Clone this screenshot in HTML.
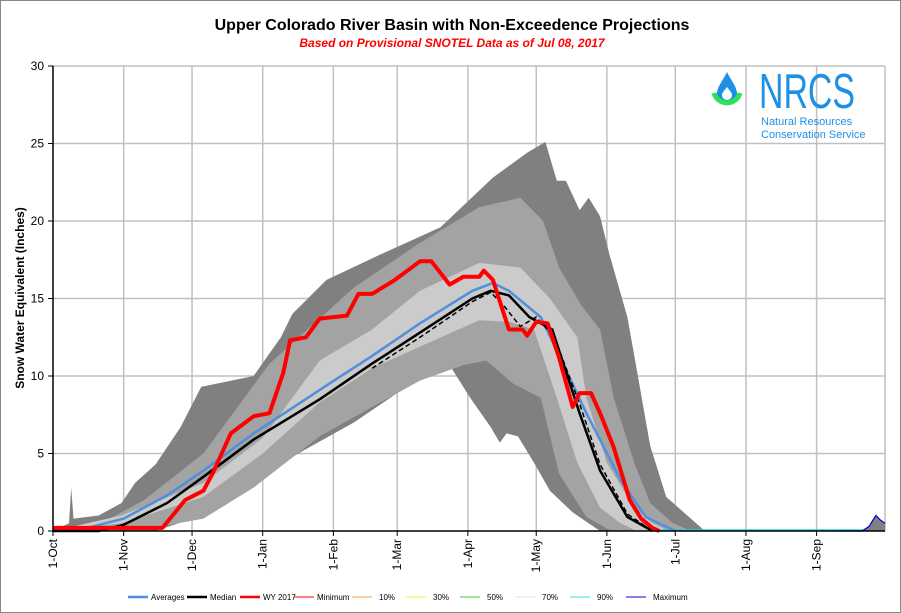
<!DOCTYPE html>
<html><head><meta charset="utf-8"><style>
body{margin:0;background:#fff;}
svg{display:block;font-family:"Liberation Sans",Arial,sans-serif;}
</style></head><body>
<svg id="chart" width="901" height="613" viewBox="0 0 901 613">
<rect x="0.5" y="0.5" width="900" height="612" fill="#fff" stroke="#888"/>
<text x="452" y="30" text-anchor="middle" font-size="16" font-weight="bold">Upper Colorado River Basin with Non-Exceedence Projections</text>
<text x="452" y="47" text-anchor="middle" font-size="12" font-weight="bold" font-style="italic" fill="#f00">Based on Provisional SNOTEL Data as of Jul 08, 2017</text>
<text transform="translate(24,298) rotate(-90)" text-anchor="middle" font-size="12" font-weight="bold">Snow Water Equivalent (Inches)</text>
<g id="grid"></g>
<g id="bands"></g>
<g id="lines"></g>
<g id="axes"></g>
<g>
<path d="M727,72 C722,82 717,87 717,94 A10,10 0 0 0 737,94 C737,87 732,82 727,72 Z" fill="#1e90e6"/>
<path d="M727,87 C724,91 722,93 722,95 A5,5 0 0 0 732,95 C732,93 730,91 727,87Z" fill="#fff"/>
<path d="M714,93 A13.5,13.5 0 0 0 740,93" fill="none" stroke="#2ee05a" stroke-width="5"/>
<text x="759" y="108" font-size="49" fill="#1e90e6" textLength="96" lengthAdjust="spacingAndGlyphs">NRCS</text>
<text x="761" y="125" font-size="11" fill="#1e90e6">Natural Resources</text>
<text x="761" y="138" font-size="11" fill="#1e90e6">Conservation Service</text>
</g>
<g id="legend"></g>
</svg>
<script>
const monthLabels=["1-Oct","1-Nov","1-Dec","1-Jan","1-Feb","1-Mar","1-Apr","1-May","1-Jun","1-Jul","1-Aug","1-Sep"];
const monthDays=[0,31,61,92,123,151,182,212,243,273,304,335];
const yTicks=[0,5,10,15,20,25,30];
const maxD=[0,7,8,9,20,30,36,45,56,65,88,100,105,120,143,170,193,208,216,221,225,231,235,240,244,252,256,262,269,279,286];
const maxV=[0,0.5,2.8,0.8,1,1.8,3.1,4.3,6.7,9.3,10,12.5,14,16.2,17.8,19.6,22.8,24.4,25.1,22.6,22.6,20.7,21.5,20.3,17.9,13.8,10.5,5.5,2.2,0.9,0];
const minD=[0,45,55,66,88,110,132,152,161,174,183,192,196,199,204,211,218,228,237,240];
const minV=[0,0,0.5,1.4,3.3,5.2,7,9,10.2,10.7,8.6,6.7,5.7,6.3,6.1,4.4,2.6,1.2,0.3,0];
const p90D=[0,20,40,66,95,132,160,187,205,215,222,232,240,246,255,262,272,280];
const p90V=[0,0.4,2,5,10.8,15.7,18.5,20.9,21.5,20,17,14.5,13,8.6,4.4,1.8,0.5,0];
const p10D=[0,40,66,88,117,140,161,180,190,202,214,222,234,245];
const p10V=[0,0.1,0.8,2.8,6.1,8,9.7,10.7,11,9.5,8.6,3.7,0.9,0];
const p70D=[0,30,66,92,117,140,161,187,205,218,230,234,243,255,263,270];
const p70V=[0,1,3.1,6,11,13,15.5,17.3,17,15,12.5,8.6,4.4,1.5,0.5,0];
const p30D=[0,30,66,92,117,140,161,187,200,211,221,230,240,249,256];
const p30V=[0,0.5,2.2,5,8.3,10.5,11.9,13.6,13.5,13,8.6,4.4,1.5,0.5,0];
const avgD=[0,15,31,50,66,88,117,140,161,184,193,200,214,234,249,260,273];
const avgV=[0,0.2,0.8,2.3,3.9,6.3,9.1,11.3,13.4,15.5,16,15.5,13.8,7.6,3.3,0.9,0];
const medD=[0,20,31,50,66,88,117,140,161,184,192,200,209,219,231,240,252,263];
const medV=[0,0,0.4,1.8,3.5,5.9,8.5,10.8,12.8,15,15.5,15.2,13.8,13,7.6,3.9,0.9,0];
const dashD=[140,161,184,192,198,205,212,220,231,240,252,263];
const dashV=[10.5,12.5,14.8,15.4,14.5,13.2,13.8,12.5,8.2,4.3,1.1,0];
const wyD=[0,48,58,66,70,78,88,95,101,104,111,117,129,134,140,150,161,166,174,180,187,189,193,200,206,208,212,217,222,228,231,236,240,246,253,258,263,266];
const wyV=[0.2,0.2,2,2.6,3.7,6.3,7.4,7.6,10.2,12.3,12.5,13.7,13.9,15.3,15.3,16.2,17.4,17.4,15.9,16.4,16.4,16.8,16.2,13,13,12.6,13.5,13.4,11.2,8,8.9,8.9,7.6,5.4,2,0.8,0.2,0];
const maxEndD=[345,355,358,361,363,365];
const maxEndV=[0,0,0.3,1,0.7,0.5];

const X0=53,X1=885,Y0=531,Y1=66;
const xs=d=>X0+d*(X1-X0)/365;
const ys=v=>Y0-v*(Y0-Y1)/30;
const NS="http://www.w3.org/2000/svg";
function mk(tag,parent,attrs){const e=document.createElementNS(NS,tag);for(const k in attrs)e.setAttribute(k,attrs[k]);parent.appendChild(e);return e;}
function pts(D,V){return D.map((d,i)=>xs(d).toFixed(1)+","+ys(V[i]).toFixed(1));}
function band(uD,uV,lD,lV){return "M"+pts(uD,uV).join("L")+"L"+pts(lD,lV).reverse().join("L")+"Z";}

const grid=document.getElementById("grid");
monthDays.forEach((d,i)=>{if(i>0){const l=mk("line",grid,{x1:xs(d),x2:xs(d),y1:Y1,y2:Y0,stroke:"#c0c0c0","stroke-width":1.5});

}});
mk("line",grid,{x1:X1,x2:X1,y1:Y1,y2:Y0,stroke:"#c0c0c0","stroke-width":1.5});
yTicks.forEach(v=>{if(v>0){const l=mk("line",grid,{x1:X0,x2:X1,y1:ys(v),y2:ys(v),stroke:"#c0c0c0","stroke-width":1.5});

}});

const bands=document.getElementById("bands");
const b1=mk("path",bands,{d:band(maxD,maxV,minD,minV),fill:"#808080"});


const b2=mk("path",bands,{d:band(p90D,p90V,p10D,p10V),fill:"#a3a3a3"});


const b3=mk("path",bands,{d:band(p70D,p70V,p30D,p30V),fill:"#cbcbcb"});



const lines=document.getElementById("lines");
const zl=mk("line",lines,{x1:xs(262),x2:X1,y1:Y0-1,y2:Y0-1,stroke:"#20d0e0","stroke-width":1.5});


const me=mk("path",lines,{d:band(maxEndD,maxEndV,[345,365],[0,0]),fill:"#808080"});


const ml=mk("polyline",lines,{points:pts(maxEndD,maxEndV).join(" "),fill:"none",stroke:"#0000cc","stroke-width":1.2});


const la=mk("polyline",lines,{points:pts(avgD,avgV).join(" "),fill:"none",stroke:"#4f8fdc","stroke-width":2.5});


const ld=mk("polyline",lines,{points:pts(dashD,dashV).join(" "),fill:"none",stroke:"#000","stroke-width":1.5,"stroke-dasharray":"5,3"});


const lm=mk("polyline",lines,{points:pts(medD,medV).join(" "),fill:"none",stroke:"#000","stroke-width":2.5});


const lw=mk("polyline",lines,{points:pts(wyD,wyV).join(" "),fill:"none",stroke:"#ff0000","stroke-width":4,"stroke-linejoin":"round"});



const axes=document.getElementById("axes");
mk("line",axes,{x1:X0,x2:X0,y1:Y1,y2:Y0+1,stroke:"#000","stroke-width":1.5});
mk("line",axes,{x1:X0-1,x2:X1,y1:Y0,y2:Y0,stroke:"#000","stroke-width":1.5});
yTicks.forEach(v=>{mk("line",axes,{x1:X0-5,x2:X0,y1:ys(v),y2:ys(v),stroke:"#000"});
const t=mk("text",axes,{x:X0-9,y:ys(v)+4,"text-anchor":"end","font-size":12});t.textContent=v;

});
monthDays.forEach((d,i)=>{mk("line",axes,{x1:xs(d),x2:xs(d),y1:Y0,y2:Y0+5,stroke:"#000"});
const t=mk("text",axes,{transform:`translate(${xs(d)+4},${Y0+8}) rotate(-90)`,"text-anchor":"end","font-size":12});t.textContent=monthLabels[i];

});

const legNames=["Averages","Median","WY 2017","Minimum","10%","30%","50%","70%","90%","Maximum"];
const legColors=["#4f8fdc","#000","#ff0000","#ff0000","#f0a040","#f0f040","#30d030","#c8e8f0","#30e0e0","#0000cc"];
const legW=[2.5,2.5,2.5,1,1,1,1,1,1,1];
const legX=[128,187,240,294,352,406,460,515,570,626];
const leg=document.getElementById("legend");
legNames.forEach((n,i)=>{
const g=mk("g",leg,{});


mk("line",g,{x1:legX[i],x2:legX[i]+20,y1:597,y2:597,stroke:legColors[i],"stroke-width":legW[i]});
const t=mk("text",g,{x:legX[i]+(i<4?23:27),y:600,"font-size":8});t.textContent=n;});
</script>
</body></html>
